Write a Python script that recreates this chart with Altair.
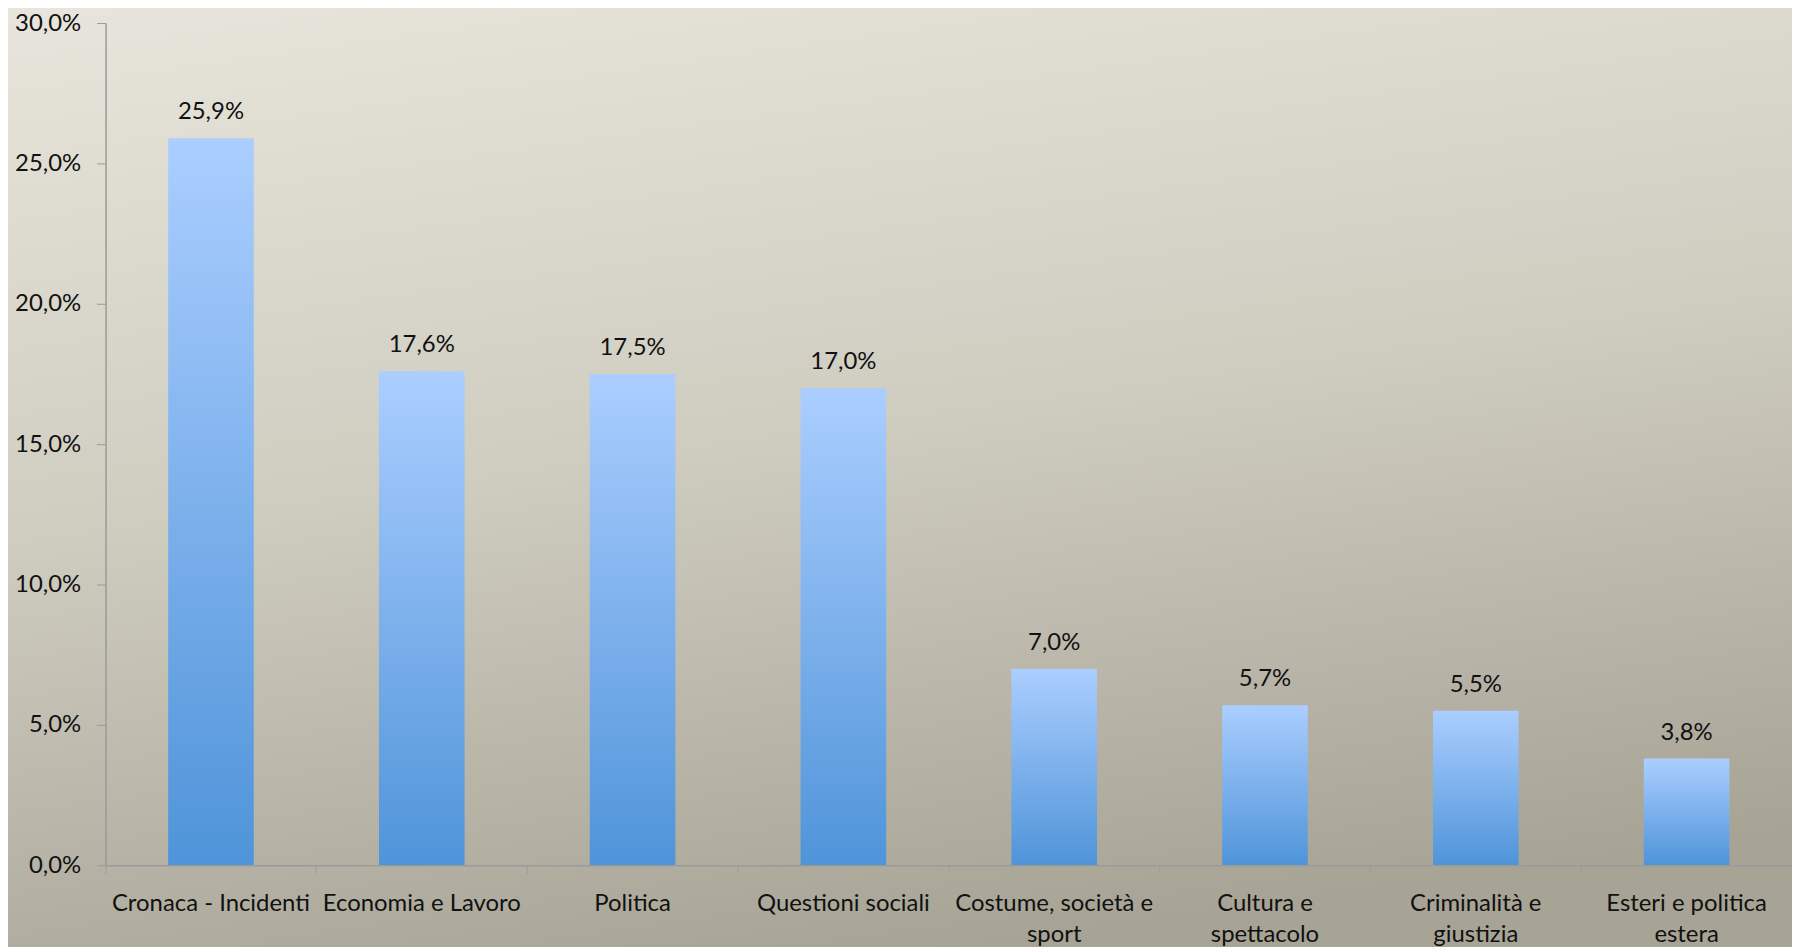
import json
import altair as alt
import pandas as pd

categories = ["Cronaca - Incidenti", "Economia e Lavoro", "Politica", "Questioni sociali",
              "Costume, società e sport", "Cultura e spettacolo", "Criminalità e giustizia",
              "Esteri e politica estera"]
values = [25.9, 17.6, 17.5, 17.0, 7.0, 5.7, 5.5, 3.8]
label_lines = [["Cronaca - Incidenti"], ["Economia e Lavoro"], ["Politica"], ["Questioni sociali"],
               ["Costume, società e", "sport"], ["Cultura e", "spettacolo"],
               ["Criminalità e", "giustizia"], ["Esteri e politica", "estera"]]
y_ticks = [0, 5, 10, 15, 20, 25, 30]

df = pd.DataFrame({"cat": categories, "v": values})
wrap = {c: l for c, l in zip(categories, label_lines)}
x_label_expr = json.dumps(wrap, ensure_ascii=False) + "[datum.value]"

FONT = "Lato"
FS = 24

bg = alt.Chart(alt.Data(values=[{}])).mark_rect(
    clip=False,
    color=alt.Gradient(
        gradient="linear",
        stops=[alt.GradientStop(color="#e8e6dc", offset=0),
               alt.GradientStop(color="#cfccc0", offset=0.5),
               alt.GradientStop(color="#a7a496", offset=1)],
        x1=0, y1=0, x2=0.25, y2=1),
).encode(x=alt.value(-110), x2=alt.value(1700), y=alt.value(-20), y2=alt.value(1000))

x_enc = alt.X("cat:N", sort=categories, title=None,
              scale=alt.Scale(paddingInner=0, paddingOuter=0),
              axis=alt.Axis(labelAngle=0, labelExpr=x_label_expr, labelFont=FONT,
                            labelFontSize=FS, labelColor="#111111", labelLineHeight=32,
                            labelPadding=18, tickSize=8, tickColor="#9a9a9a",
                            domainColor="#9a9a9a", domainWidth=1.5, bandPosition=0,
                            labelBaseline="top", labelLimit=400, zindex=1))

bars = alt.Chart(df).mark_bar(
    size=86,
    color=alt.Gradient(
        gradient="linear",
        stops=[alt.GradientStop(color="#abceff", offset=0),
               alt.GradientStop(color="#4f94d9", offset=1)],
        x1=0, y1=0, x2=0, y2=1),
).encode(
    x=x_enc,
    y=alt.Y("v:Q", title=None,
            scale=alt.Scale(domain=[0, 30], nice=False),
            axis=alt.Axis(values=y_ticks, grid=False,
                          labelExpr="replace(format(datum.value, '.1f'), '.', ',') + '%'",
                          labelFont=FONT, labelFontSize=FS, labelColor="#111111",
                          labelPadding=16, tickSize=9, tickColor="#9a9a9a",
                          domainColor="#9a9a9a", domainWidth=1.5, zindex=1)),
)

texts = alt.Chart(df).transform_calculate(
    lbl="replace(format(datum.v, '.1f'), '.', ',') + '%'"
).mark_text(dy=-19, baseline="alphabetic", fontSize=FS, font=FONT, color="#111111").encode(
    x=alt.X("cat:N", sort=categories),
    y=alt.Y("v:Q"),
    text="lbl:N",
)

chart = alt.layer(bg, bars, texts).properties(
    width=1694, height=846,
    autosize=alt.AutoSizeParams(type="none"),
    padding={"left": 98, "top": 13, "right": 0, "bottom": 80},
).configure_view(stroke=None)

chart.save("out.html", embed_options={"renderer": "svg", "actions": False})
